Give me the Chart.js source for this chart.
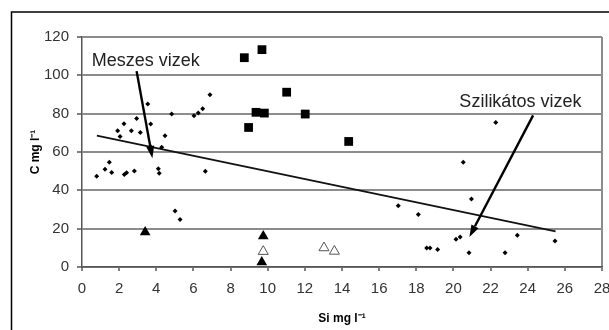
<!DOCTYPE html>
<html>
<head>
<meta charset="utf-8">
<script src="https://cdn.jsdelivr.net/npm/chart.js@4.4.0/dist/chart.umd.min.js"></script>
<style>
  html, body { margin: 0; padding: 0; background: #fff; }
  canvas { display: block; }
</style>
</head>
<body>
<canvas id="chart" width="609" height="330"></canvas>
<script>
// Si (x) and C (y) values, mg/l
const smallSi = [0.79, 1.24, 1.47, 1.6, 1.92, 2.05, 2.26, 2.28, 2.4, 2.66, 2.82, 2.94, 3.14, 3.54, 3.7, 3.7,
  4.11, 4.16, 4.29, 4.47, 4.83, 5.01, 5.28, 6.03, 6.26, 6.5, 6.64, 6.89,
  17.03, 18.11, 18.56, 18.74, 19.15, 20.14, 20.36, 20.53, 20.84, 20.97, 22.28, 22.78, 23.44, 25.47];
const smallC = [47.3, 51, 54.7, 49.3, 71.1, 68.1, 74.8, 48.2, 49.2, 71.1, 50.1, 77.5, 70.2, 85.1, 74.6, 62.8,
  51.3, 48.9, 62.5, 68.5, 79.8, 29.2, 24.8, 78.9, 80.3, 82.6, 50, 89.9,
  31.9, 27.4, 9.9, 9.9, 9.1, 14.5, 15.6, 54.7, 7.5, 35.5, 75.4, 7.5, 16.6, 13.6];

const squareSi = [8.74, 9.69, 11.02, 9.37, 9.82, 12.02, 8.97, 14.36];
const squareC = [109.2, 113.4, 91.2, 80.7, 80.3, 79.8, 72.8, 65.5];

const triSi = [3.4, 9.76, 9.68];
const triC = [18.2, 16.1, 2.5];

const openTriSi = [9.76, 13.03, 13.59];
const openTriC = [8.1, 10, 8.2];

const trendSi = [0.8, 25.5];
const trendC = [68.5, 18.6];

// annotations (in data units): label, text anchor, arrow start, arrow tip
const notes = [
  { text: 'Meszes vizek', at: [0.52, 104.8], from: [2.94, 102.2], to: [3.79, 56.8] },
  { text: 'Szilikátos vizek', at: [20.32, 83.5], from: [24.29, 79.1], to: [20.86, 15.7] }
];

const pts = (xs, ys) => xs.map((x, i) => ({ x: x, y: ys[i] }));

const fontFamily = "'Liberation Sans', Arial, sans-serif";

const extras = {
  id: 'extras',
  afterDatasetsDraw(chart) {
    const { ctx, scales: { x, y } } = chart;
    ctx.save();
    notes.forEach((n) => {
      const x0 = x.getPixelForValue(n.from[0]), y0 = y.getPixelForValue(n.from[1]);
      const x1 = x.getPixelForValue(n.to[0]), y1 = y.getPixelForValue(n.to[1]);
      const ang = Math.atan2(y1 - y0, x1 - x0);
      const headLen = 12, headW = 4;
      const bx = x1 - Math.cos(ang) * headLen, by = y1 - Math.sin(ang) * headLen;
      ctx.strokeStyle = '#000';
      ctx.lineWidth = 2.4;
      ctx.beginPath();
      ctx.moveTo(x0, y0);
      ctx.lineTo(bx, by);
      ctx.stroke();
      ctx.fillStyle = '#000';
      ctx.beginPath();
      ctx.moveTo(x1, y1);
      ctx.lineTo(bx + Math.sin(ang) * headW, by - Math.cos(ang) * headW);
      ctx.lineTo(bx - Math.sin(ang) * headW, by + Math.cos(ang) * headW);
      ctx.closePath();
      ctx.fill();

      ctx.font = '18px ' + fontFamily;
      ctx.fillStyle = '#222';
      ctx.textAlign = 'left';
      ctx.textBaseline = 'alphabetic';
      ctx.fillText(n.text, x.getPixelForValue(n.at[0]), y.getPixelForValue(n.at[1]));
    });
    // outer frame (top and left edges)
    ctx.strokeStyle = '#000';
    ctx.lineWidth = 1.5;
    ctx.beginPath();
    ctx.moveTo(11.5, 330);
    ctx.lineTo(11.5, 12);
    ctx.lineTo(609, 12);
    ctx.stroke();
    ctx.restore();
  }
};

new Chart(document.getElementById('chart'), {
  type: 'scatter',
  data: {
    datasets: [
      {
        data: pts(smallSi, smallC),
        pointStyle: 'rectRot',
        pointRadius: 2.5,
        backgroundColor: '#000',
        borderWidth: 0
      },
      {
        data: pts(squareSi, squareC),
        pointStyle: 'rect',
        pointRadius: 6.2,
        backgroundColor: '#000',
        borderWidth: 0
      },
      {
        data: pts(triSi, triC),
        pointStyle: 'triangle',
        pointRadius: 6.2,
        backgroundColor: '#000',
        borderWidth: 0
      },
      {
        data: pts(openTriSi, openTriC),
        pointStyle: 'triangle',
        pointRadius: 5.8,
        backgroundColor: '#fff',
        borderColor: '#555',
        borderWidth: 1
      },
      {
        data: pts(trendSi, trendC),
        showLine: true,
        pointRadius: 0,
        borderColor: '#111',
        borderWidth: 1.8
      }
    ]
  },
  options: {
    responsive: false,
    animation: false,
    layout: { padding: { left: 28, top: 37, right: 7, bottom: 4 } },
    plugins: {
      legend: { display: false },
      tooltip: { enabled: false }
    },
    scales: {
      x: {
        type: 'linear',
        min: 0,
        max: 28,
        ticks: { stepSize: 2, color: '#333', padding: 9, font: { size: 15, family: fontFamily } },
        grid: {
          color: (c) => (c.tick && c.tick.value === 28 ? '#8c8c8c' : 'rgba(0,0,0,0)'),
          lineWidth: 2,
          tickColor: '#555',
          tickWidth: 1.5,
          tickLength: 4
        },
        border: { color: '#555', width: 1.5 },
        title: {
          display: true,
          text: 'Si mg l⁻¹',
          color: '#000',
          padding: 0,
          font: { size: 12, weight: 'bold', family: fontFamily }
        },
        afterFit: (scale) => {
          scale.height = 59;
          scale.paddingLeft = 0;
          scale.paddingRight = 0;
        }
      },
      y: {
        min: 0,
        max: 120,
        ticks: { stepSize: 20, color: '#333', padding: 8, font: { size: 15, family: fontFamily } },
        grid: {
          color: '#8c8c8c',
          lineWidth: 2,
          tickColor: '#555',
          tickWidth: 1.5,
          tickLength: 5
        },
        border: { color: '#555', width: 1.5 },
        title: {
          display: true,
          text: 'C mg l⁻¹',
          color: '#000',
          padding: 0,
          font: { size: 12, weight: 'bold', family: fontFamily }
        },
        afterFit: (scale) => { scale.width = 54; }
      }
    }
  },
  plugins: [extras]
});
</script>
</body>
</html>
